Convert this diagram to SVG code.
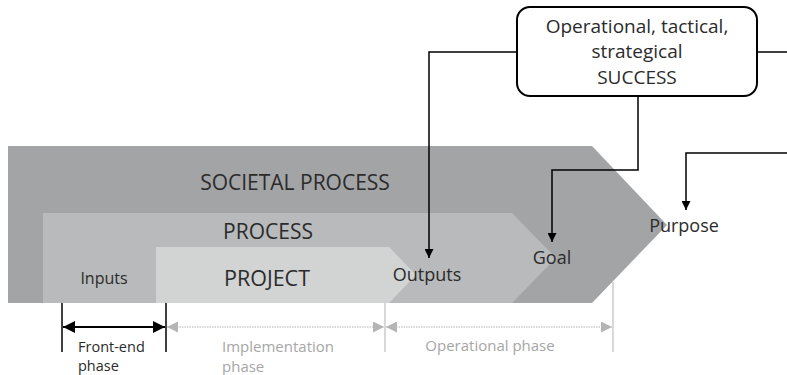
<svg xmlns="http://www.w3.org/2000/svg" width="787" height="375" viewBox="0 0 787 375">
<defs>
<marker id="ah" viewBox="0 0 10 10" refX="10" refY="5" markerWidth="9" markerHeight="9" markerUnits="userSpaceOnUse" orient="auto"><path d="M0,0 L10,5 L0,10 z" fill="#000"/></marker>
<marker id="ahb" viewBox="0 0 10 10" refX="10" refY="5" markerWidth="12" markerHeight="12" markerUnits="userSpaceOnUse" orient="auto-start-reverse"><path d="M0,0 L10,5 L0,10 z" fill="#000"/></marker>
<marker id="ahg" viewBox="0 0 10 10" refX="10" refY="5" markerWidth="11" markerHeight="11" markerUnits="userSpaceOnUse" orient="auto-start-reverse"><path d="M0,0 L10,5 L0,10 z" fill="#b4b4b4"/></marker>
<style>
text{font-family:"Open Sans","Noto Sans","DejaVu Sans",sans-serif;fill:#2b2b2b}
.lbl{font-size:18px}
.dim{font-size:15px;fill:#a6a6a6}
.ln{fill:none;stroke:#000;stroke-width:1.5}
.tk{stroke:#000;stroke-width:1.5}
.tkg{stroke:#c4c4c4;stroke-width:1.3}
</style>
</defs>
<g id="societal">
<polygon points="8,146 592,146 667,225 592,303 8,303" fill="#a3a4a6"/>
<text x="295" y="190" font-size="21" text-anchor="middle">SOCIETAL PROCESS</text>
</g>
<g id="process">
<polygon points="43,213 512,213 556,258 512,303 43,303" fill="#b8babb"/>
<text x="268" y="239" font-size="21" text-anchor="middle">PROCESS</text>
</g>
<g id="project">
<polygon points="156,247 389,247 416,275 389,303 156,303" fill="#d2d3d3"/>
<text x="267" y="286" font-size="21.5" text-anchor="middle">PROJECT</text>
</g>
<g id="inputs"><text x="104" y="284" text-anchor="middle" font-size="16">Inputs</text></g>
<g id="outputs"><text class="lbl" x="427" y="281" text-anchor="middle">Outputs</text></g>
<g id="goal"><text class="lbl" x="552" y="264" text-anchor="middle">Goal</text></g>
<g id="purpose"><text class="lbl" x="684" y="232" text-anchor="middle" font-size="18.5">Purpose</text></g>
<g id="success">
<rect x="517" y="7" width="240" height="89" rx="13" fill="#fff" stroke="#000" stroke-width="2"/>
<text x="637" y="33" font-size="19" text-anchor="middle">Operational, tactical,</text>
<text x="637" y="58" font-size="19" text-anchor="middle">strategical</text>
<text x="637" y="84" font-size="19" text-anchor="middle">SUCCESS</text>
</g>
<g id="connectors">
<path class="ln" d="M517,52 H429 V258" marker-end="url(#ah)"/>
<path class="ln" d="M638,96 V170 H552 V242" marker-end="url(#ah)"/>
<path class="ln" d="M757,52 H787"/>
<path class="ln" d="M787,153 H686 V210" marker-end="url(#ah)"/>
</g>
<g id="dimensions">
<line class="tk" x1="62" y1="303" x2="62" y2="352"/>
<line class="tk" x1="166" y1="303" x2="166" y2="352"/>
<line class="tkg" x1="385" y1="303" x2="385" y2="352"/>
<line class="tkg" x1="613" y1="282" x2="613" y2="352"/>
<line x1="63" y1="327" x2="165" y2="327" stroke="#000" stroke-width="2" marker-start="url(#ahb)" marker-end="url(#ahb)"/>
<line x1="167" y1="327" x2="384" y2="327" stroke="#b4b4b4" stroke-width="1" stroke-dasharray="1.5,1" marker-start="url(#ahg)" marker-end="url(#ahg)"/>
<line x1="386" y1="327" x2="612" y2="327" stroke="#b4b4b4" stroke-width="1" stroke-dasharray="1.5,1" marker-start="url(#ahg)" marker-end="url(#ahg)"/>
<text x="78" y="352" font-size="14.5">Front-end</text>
<text x="78" y="371" font-size="14.5">phase</text>
<text class="dim" x="222" y="352">Implementation</text>
<text class="dim" x="222" y="372">phase</text>
<text class="dim" x="490" y="351" text-anchor="middle">Operational phase</text>
</g>
</svg>
